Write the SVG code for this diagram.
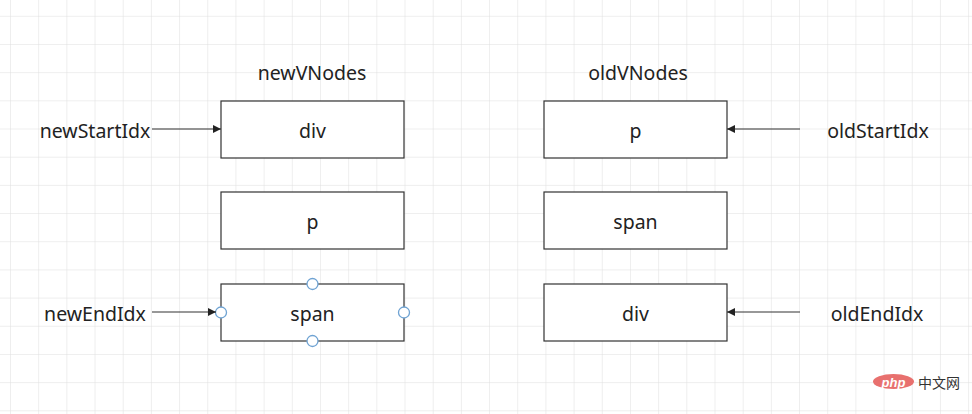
<svg xmlns="http://www.w3.org/2000/svg" width="972" height="414" viewBox="0 0 972 414">
<defs>
<pattern id="grid" x="10" y="15.8" width="28.18" height="28.18" patternUnits="userSpaceOnUse">
<path d="M0 0V28.18M0 0H28.18" fill="none" stroke="#dedede" stroke-width="1"/>
</pattern>
<marker id="arr" viewBox="0 0 10 10" refX="10" refY="5" markerWidth="8" markerHeight="8" markerUnits="userSpaceOnUse" orient="auto">
<path d="M0 0L10 5L0 10z" fill="#222"/>
</marker>
</defs>
<style>
.box{fill:#fff;stroke:#333;stroke-width:1.2}
.t{font-family:"Noto Sans","Liberation Sans",sans-serif;font-size:19.5px;fill:#222;text-anchor:middle;dominant-baseline:central}
.c{stroke:#333;stroke-width:1.2;fill:none;marker-end:url(#arr)}
.h{fill:#fff;stroke:#6fa3d3;stroke-width:1.3}
</style>
<rect width="972" height="414" fill="#fff"/>
<rect width="972" height="414" fill="url(#grid)"/>
<text class="t" x="312" y="72">newVNodes</text>
<text class="t" x="638" y="72">oldVNodes</text>
<g id="new-div"><rect class="box" x="221" y="101" width="183" height="57"/><text class="t" x="312.5" y="130">div</text></g>
<g id="new-p"><rect class="box" x="221" y="192" width="183" height="57"/><text class="t" x="312.5" y="221">p</text></g>
<g id="new-span"><rect class="box" x="221" y="284" width="183" height="57"/><text class="t" x="312.5" y="313">span</text>
<circle class="h" cx="312.5" cy="284" r="5.5"/><circle class="h" cx="312.5" cy="341" r="5.5"/><circle class="h" cx="221" cy="312.5" r="5.5"/><circle class="h" cx="404" cy="312.5" r="5.5"/></g>
<g id="old-p"><rect class="box" x="544" y="101" width="183" height="57"/><text class="t" x="635.5" y="130">p</text></g>
<g id="old-span"><rect class="box" x="544" y="192" width="183" height="57"/><text class="t" x="635.5" y="221">span</text></g>
<g id="old-div"><rect class="box" x="544" y="284" width="183" height="57"/><text class="t" x="635.5" y="313">div</text></g>
<g id="label-newStartIdx"><text class="t" x="95" y="130">newStartIdx</text></g>
<g id="label-newEndIdx"><text class="t" x="95" y="313">newEndIdx</text></g>
<g id="label-oldStartIdx"><text class="t" x="878" y="130">oldStartIdx</text></g>
<g id="label-oldEndIdx"><text class="t" x="877" y="313">oldEndIdx</text></g>
<g id="connectors">
<line class="c" x1="152" y1="129" x2="221" y2="129"/>
<line class="c" x1="152" y1="312" x2="216" y2="312"/>
<line class="c" x1="800" y1="129" x2="727" y2="129"/>
<line class="c" x1="800" y1="312" x2="727" y2="312"/>
</g>
<g id="watermark">
<ellipse cx="893.5" cy="381.5" rx="20.5" ry="7.5" fill="#e8706e"/>
<text x="893.5" y="382" font-family="'Liberation Sans',sans-serif" font-size="13" font-style="italic" font-weight="bold" fill="#fff" text-anchor="middle" dominant-baseline="central">php</text>
<text x="918" y="382" font-family="'Noto Sans CJK SC',sans-serif" font-size="14" fill="#333" dominant-baseline="central">中文网</text>
</g>
</svg>
